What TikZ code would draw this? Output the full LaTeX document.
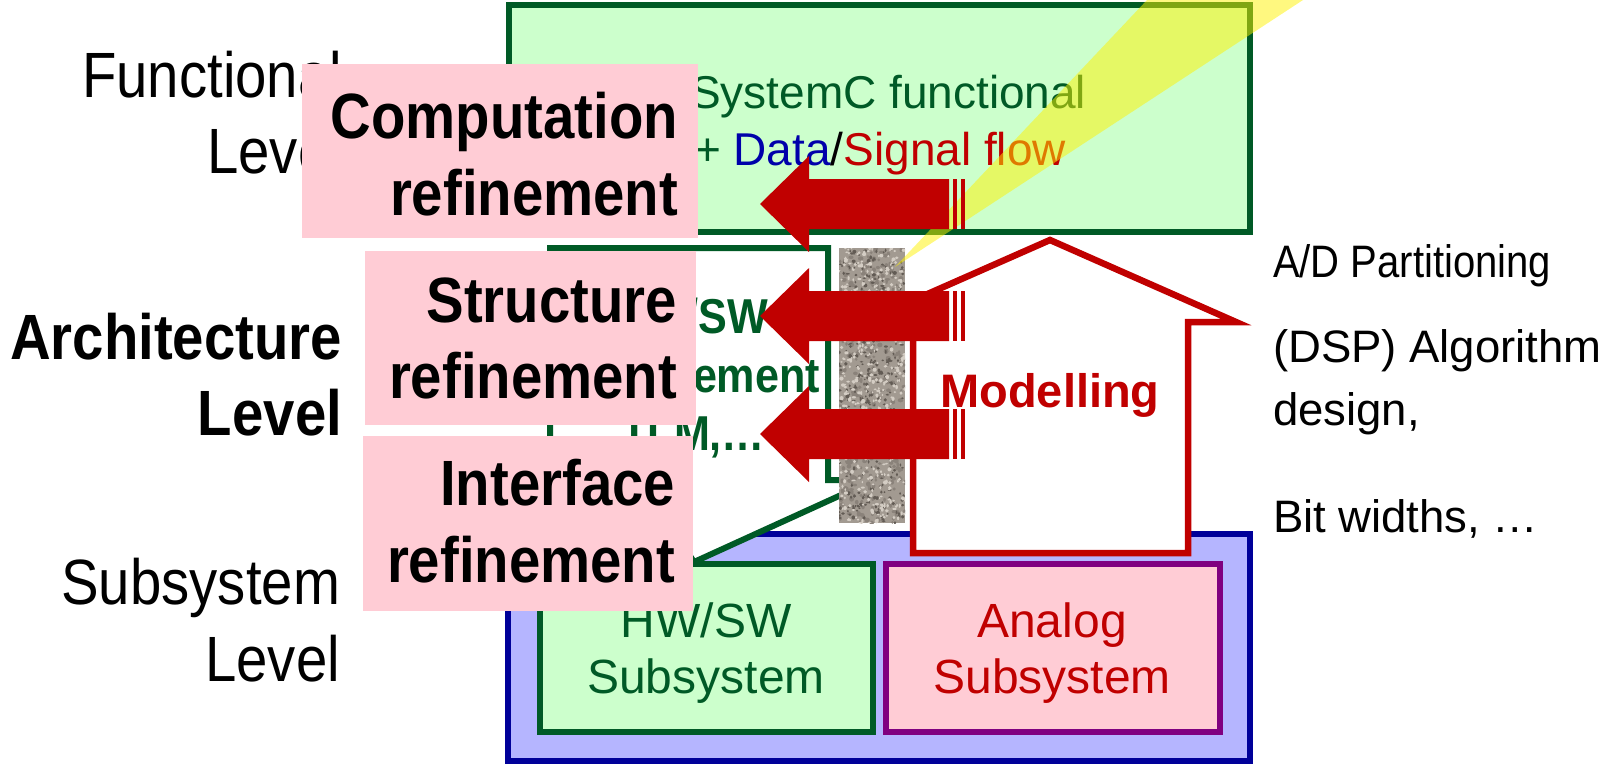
\documentclass[tikz,border=0pt]{standalone}
\usepackage{fontspec}
\setmainfont{Liberation Sans}
\newfontfamily\condsans[FakeStretch=0.88]{Liberation Sans}

\definecolor{dkgreen}{RGB}{0,90,38}
\definecolor{ltgreen}{RGB}{204,255,204}
\definecolor{pinkfill}{RGB}{255,204,213}
\definecolor{dkblue}{RGB}{0,0,153}
\definecolor{ltblue}{RGB}{181,181,255}
\definecolor{plum}{RGB}{128,0,128}
\definecolor{deepred}{RGB}{192,0,0}
\definecolor{datablue}{RGB}{0,0,170}
\definecolor{stonebase}{RGB}{162,154,145}
\definecolor{stonelite}{RGB}{212,205,196}
\definecolor{stonemid}{RGB}{138,130,122}
\definecolor{stonedark}{RGB}{98,91,84}

\tikzset{
  txt/.style={inner sep=0pt, outer sep=0pt},
  levellabel/.style={txt, anchor=base east, font=\condsans\fontsize{64}{76}\selectfont},
  levelbold/.style={levellabel, font=\condsans\bfseries\fontsize{64}{76}\selectfont},
  refinelabel/.style={txt, anchor=base east, font=\condsans\bfseries\fontsize{64}{76}\selectfont},
  boxtext/.style={txt, anchor=base, font=\fontsize{48}{56}\selectfont},
  sidetext/.style={txt, anchor=base west, font=\fontsize{45.5}{52}\selectfont},
  archtext/.style={txt, anchor=base east, text=dkgreen, font=\condsans\bfseries\fontsize{49}{58}\selectfont},
  frame/.style={line width=6pt},
  pinkbox/.style={fill=pinkfill},
}

% one red block arrow with its striped tail, centred on height #1
\newcommand\refarrow[1]{%
  \fill[deepred] (760,#1) -- (809,{#1-48}) -- (809,{#1-25}) -- (949,{#1-25})
    -- (949,{#1+25}) -- (809,{#1+25}) -- (809,{#1+48}) -- cycle;
  \fill[deepred] (953,{#1-25}) rectangle (957,{#1+25});
  \fill[deepred] (961,{#1-25}) rectangle (965,{#1+25});
}

% random speckles of one tone inside the granite pillar
\newcommand\speckles[4]{%
  \foreach \k in {1,...,#2}{
    \pgfmathsetmacro\sx{839+66*rnd}
    \pgfmathsetmacro\sy{248+275*rnd}
    \pgfmathsetmacro\sr{#3+#4*rnd}
    \pgfmathsetmacro\sq{#3+#4*rnd}
    \fill[#1] (\sx,\sy) ellipse ({\sr pt} and {\sq pt});
  }%
}

\begin{document}
\begin{tikzpicture}[x=1pt, y=-1pt]
\useasboundingbox (0,0) rectangle (1604,764);

% level names on the left
\node[levellabel] (funcA) at (342,97) {Functional};
\node[levellabel] (funcB) at (342,173) {Level};
\node[levelbold] (archA) at (342,359) {Architecture};
\node[levelbold] (archB) at (342,435) {Level};
\node[levellabel] (subA) at (340,604) {Subsystem};
\node[levellabel] (subB) at (340,681) {Level};

% functional level box
\draw[frame, draw=dkgreen, fill=ltgreen] (509,5) rectangle (1250,232);
\node[txt, anchor=base west, text=dkgreen, font=\fontsize{46}{54}\selectfont] (fun1) at (690,108) {SystemC functional};
\node[txt, anchor=base west, font=\fontsize{46}{54}\selectfont] (fun2) at (694,165)
  {\textcolor{dkgreen}{+ }\textcolor{datablue}{Data}\textcolor{black}{/}\textcolor{deepred}{Signal flow}};

% subsystem level
\draw[frame, draw=dkblue, fill=ltblue] (508,534) rectangle (1250,761);
\draw[frame, draw=dkgreen, fill=ltgreen] (540,564) rectangle (873,732);
\node[boxtext, text=dkgreen] (hw1) at (706,637) {HW/SW};
\node[boxtext, text=dkgreen] (hw2) at (706,693) {Subsystem};
\draw[frame, draw=plum, fill=pinkfill] (886,564) rectangle (1220,732);
\node[boxtext, text=deepred] (an1) at (1052,637) {Analog};
\node[boxtext, text=deepred] (an2) at (1052,693) {Subsystem};

% architecture level callout
\draw[frame, draw=dkgreen, fill=white, line join=miter]
  (550,248) -- (828,248) -- (828,480) -- (874,480) -- (694,562) -- (640,480) -- (550,480) -- cycle;
\node[archtext] (ar1) at (768,333) {HW/SW};
\node[archtext] (ar2) at (820,392) {refinement};
\node[archtext] (ar3) at (765,450) {TLM,…};

% granite pillar
\begin{scope}
  \clip (839,248) rectangle (905,523);
  \fill[stonebase] (839,248) rectangle (905,523);
  \pgfmathsetseed{7}
  \speckles{stonemid}{380}{1.2}{1.6}
  \speckles{stonedark}{420}{0.8}{1.3}
  \speckles{stonelite}{520}{0.8}{1.4}
\end{scope}

% modelling house
\draw[line width=6.5pt, draw=deepred, fill=white, line join=miter]
  (913,553) -- (913,322) -- (864,322) -- (1050,240) -- (1236,322) -- (1188,322) -- (1188,553) -- cycle;
\node[txt, anchor=base, text=deepred, font=\bfseries\fontsize{47}{56}\selectfont] (model) at (1050,407) {Modelling};

% light beam
\fill[yellow, opacity=0.5] (895,267) -- (1147,0) -- (1303,0) -- cycle;

% refinement arrows
\refarrow{204}
\refarrow{316}
\refarrow{434}

% refinement labels
\fill[pinkbox] (302,64) rectangle (698,238);
\node[refinelabel] (cr1) at (678,138) {Computation};
\node[refinelabel] (cr2) at (678,215) {refinement};
\fill[pinkbox] (365,251) rectangle (696,425);
\node[refinelabel] (sr1) at (677,322) {Structure};
\node[refinelabel] (sr2) at (677,398) {refinement};
\fill[pinkbox] (363,436) rectangle (693,611);
\node[refinelabel] (ir1) at (675,505) {Interface};
\node[refinelabel] (ir2) at (675,582) {refinement};

% notes on the right
\node[sidetext, font=\condsans\fontsize{45.5}{52}\selectfont] (n1) at (1273,277) {A/D Partitioning};
\node[sidetext] (n2) at (1273,362) {(DSP) Algorithm};
\node[sidetext] (n3) at (1273,425) {design,};
\node[sidetext] (n4) at (1273,532) {Bit widths, …};
\end{tikzpicture}
\end{document}
